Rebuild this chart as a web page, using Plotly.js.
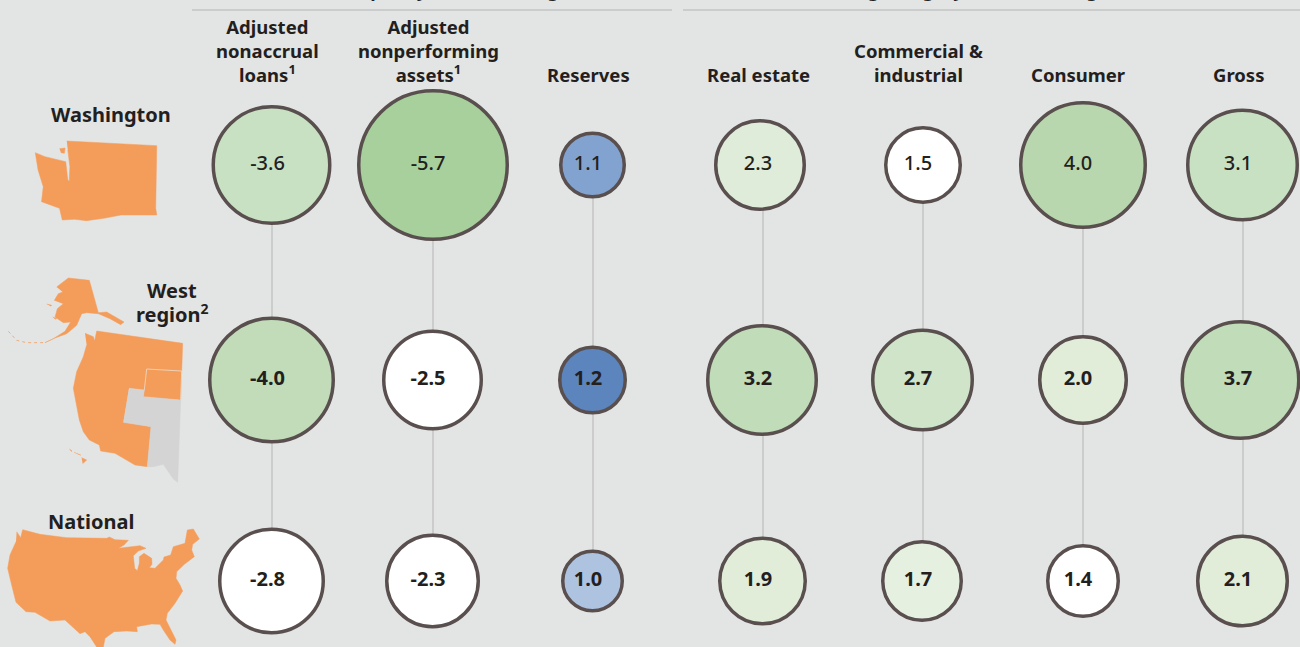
<!DOCTYPE html>
<html><head><meta charset="utf-8">
<script src="https://cdn.plot.ly/plotly-3.0.1.min.js"></script>
<style>html,body{margin:0;padding:0;background:#e3e5e4;overflow:hidden}#c{width:1300px;height:647px}</style>
</head><body><div id="c"></div>
<script>
// --- data ---
const columns = ["Adjusted<br>nonaccrual<br>loans<sup>1</sup>","Adjusted<br>nonperforming<br>assets<sup>1</sup>","Reserves","Real estate","Commercial &<br>industrial","Consumer","Gross"];
const regions = ["Washington","West","region<sup>2</sup>","National"];
const washington = [-3.6,-5.7,1.1,2.3,1.5,4.0,3.1];
const west       = [-4.0,-2.5,1.2,3.2,2.7,2.0,3.7];
const national   = [-2.8,-2.3,1.0,1.9,1.7,1.4,2.1];

// --- layout / style (pixel space of the 1300x647 page) ---
const BG="#e3e5e4", ORANGE="#f49c5a", GREY="#d3d4d3", RING="#5a4f4f", RULE="#b3b3b3", INK="#231f20";
const FONT='"Noto Sans", sans-serif';
const rowY=[165,380,581];
const colWA=[271.5,433,592.5,760,923,1083,1242.5];
const colWest=[271.5,432.5,592.5,762,922.5,1083,1240.5];
const colNat=[271.5,432.5,592.5,762.5,922,1083,1242.5];
const headX=[267.5,428,588,758,918,1078,1238];
const lineX=[272,433,593,763,923,1083,1243];
const sizesWA=[120,152,67,92,78,128,113];
const sizesWest=[127,101,69,112,103,90,120];
const sizesNat=[107,95,63,89,82,74,93];
const fillWA=["#c9e1c3","#a8d09c","#82a2cf","#dfecd9","#ffffff","#b9d7ae","#c9e1c3"];
const fillWest=["#c2dcb9","#ffffff","#5c84bd","#c0dcb8","#d0e4c9","#e1edd9","#c0dcb8"];
const fillNat=["#ffffff","#ffffff","#adc3df","#e1edd9","#e6f0e0","#ffffff","#e1edd9"];

// map outlines
const waX=[193,453,450,453,350,300,250,215,180,172,120,125,110,102,130,190,196,200,202,196];
const waY=[423,437,625,645,645,655,662,658,660,625,605,560,510,458,470,485,540,544,500,450];
const sanJuanX=[172,188,186,176];
const sanJuanY=[446,444,460,458];
const akX=[170,205,268,295,320,345,372,362,330,295,260,245,230,200,165,135,160,195,212,190,165,172,190,163,175,188];
const akY=[45,18,25,122,120,135,150,158,140,125,122,125,160,185,198,212,200,178,150,152,135,110,95,85,65,60];
const aleutX=[25,50,80,110,135];
const aleutY=[178,205,212,213,212];
const islandX=[140,155,152,158,170,165];
const islandY=[96,100,103,135,140,142];
const hawaiiX=[65,80,68];const hawaiiY=[398,405,416];
const hawaii2X=[28,36,33,42,62,60];const hawaii2Y=[372,378,379,382,390,391];
const westX=[75,100,104,110,368,362,250,253,207,190,273,262,225,165,122,118,88,70,58,50,40,50,70,80];
const westY=[25,35,48,18,55,225,215,195,190,292,305,425,420,385,378,360,345,320,285,245,190,140,95,60];
const greyX=[207,253,250,362,353,340,310,280,262,273,190];
const greyY=[190,195,215,225,472,462,418,425,425,305,292];
const innerX=[253,260,365,362];
const innerY=[195,132,138,225];
const usX=[50,62,68,120,200,320,328,345,385,372,355,390,420,438,415,400,404,412,418,418,432,455,456,448,465,490,492,512,520,555,562,580,598,578,575,583,570,553,530,528,540,548,525,502,498,515,528,525,510,490,480,455,410,412,380,342,315,310,290,270,255,240,222,195,150,105,78,48,35,23,30,48];
const usY=[20,38,14,28,38,40,36,44,46,60,70,66,62,70,78,92,130,137,115,95,85,100,118,128,130,105,96,90,65,55,15,12,42,58,75,95,105,118,140,160,180,198,235,265,285,320,345,358,345,315,298,297,305,320,318,320,340,366,366,335,320,326,310,285,288,262,260,232,180,130,90,50];

function place(xs,ys,left,top,sx,sy){return [xs.map(v=>v/sx+left),ys.map(v=>v/(sy||sx)+top)];}
function poly(p,color){return {x:p[0],y:p[1],mode:"lines",fill:"toself",fillcolor:color,line:{color,width:0.5},hoverinfo:"skip",showlegend:false};}
const traces=[
  poly(place(waX,waY,0,0,2.89,3),ORANGE),
  poly(place(sanJuanX,sanJuanY,0,0,2.89,3),ORANGE),
  poly(place(akX,akY,0,272,3),ORANGE),
  poly(place(islandX.slice(0,3),islandY.slice(0,3),0,272,3),ORANGE),
  poly(place(islandX.slice(3),islandY.slice(3),0,272,3),ORANGE),
  poly(place(hawaiiX,hawaiiY,60,325,3),ORANGE),
  poly(place(hawaii2X.slice(0,3),hawaii2Y.slice(0,3),60,325,3),ORANGE),
  poly(place(hawaii2X.slice(3),hawaii2Y.slice(3),60,325,3),ORANGE),
  poly(place(westX,westY,60,325,3),ORANGE),
  poly(place(greyX,greyY,60,325,3),GREY),
  poly(place(usX,usY,0,525,3),ORANGE)
];
const al=place(aleutX,aleutY,0,272,3);
traces.push({x:al[0],y:al[1],mode:"lines",line:{color:ORANGE,width:0.8,dash:"dot"},hoverinfo:"skip",showlegend:false});
const inner=place(innerX,innerY,60,325,3);
traces.push({x:inner[0],y:inner[1],mode:"lines",line:{color:"#eeddcc",width:0.8},hoverinfo:"skip",showlegend:false});
// connectors
lineX.forEach(x=>traces.push({x:[x,x],y:[rowY[0],rowY[2]],mode:"lines",line:{color:RULE,width:1},hoverinfo:"skip",showlegend:false}));
// rules under the cut-off group headers
[[192,672],[683,1300]].forEach(r=>traces.push({x:r,y:[10,10],mode:"lines",line:{color:RULE,width:1},hoverinfo:"skip",showlegend:false}));
// circles and labels
const rows=[[washington,sizesWA,fillWA,false,colWA],[west,sizesWest,fillWest,true,colWest],[national,sizesNat,fillNat,true,colNat]];
rows.forEach((r,i)=>{
  traces.push({x:r[4],y:r[4].map(()=>rowY[i]),mode:"markers",
    marker:{size:r[1].map(s=>s-3.5),color:r[2],line:{color:RING,width:3.5},opacity:1},hoverinfo:"skip",showlegend:false});
  traces.push({x:headX,y:headX.map(()=>rowY[i]),mode:"text",text:r[0].map(v=>v.toFixed(1)),textposition:"middle center",
    textfont:{family:FONT,size:20,color:INK,weight:r[3]?700:500},hoverinfo:"skip",showlegend:false});
});
const ann=[];
function label(text,x,y,size){ann.push({text,x,y,xref:"x",yref:"y",xanchor:"center",yanchor:"bottom",showarrow:false,align:"center",
  font:{family:FONT,size:size,color:INK,weight:700},borderpad:0});}
columns.forEach((c,i)=>label(c,headX[i],88,18.5));
label(regions[0],111,129,20);
label(regions[1],172,305,20);
label(regions[2],172,329,20);
label(regions[3],91,536,20);
label("Credit quality metrics change",437,3,18);
label("Lending category balance change",958,3,18);

Plotly.newPlot("c",traces,{
  width:1300,height:647,margin:{l:0,r:0,t:0,b:0},paper_bgcolor:BG,plot_bgcolor:BG,showlegend:false,
  xaxis:{range:[0,1300],visible:false,fixedrange:true},
  yaxis:{range:[647,0],visible:false,fixedrange:true},
  annotations:ann
},{displayModeBar:false,staticPlot:true});
</script></body></html>
